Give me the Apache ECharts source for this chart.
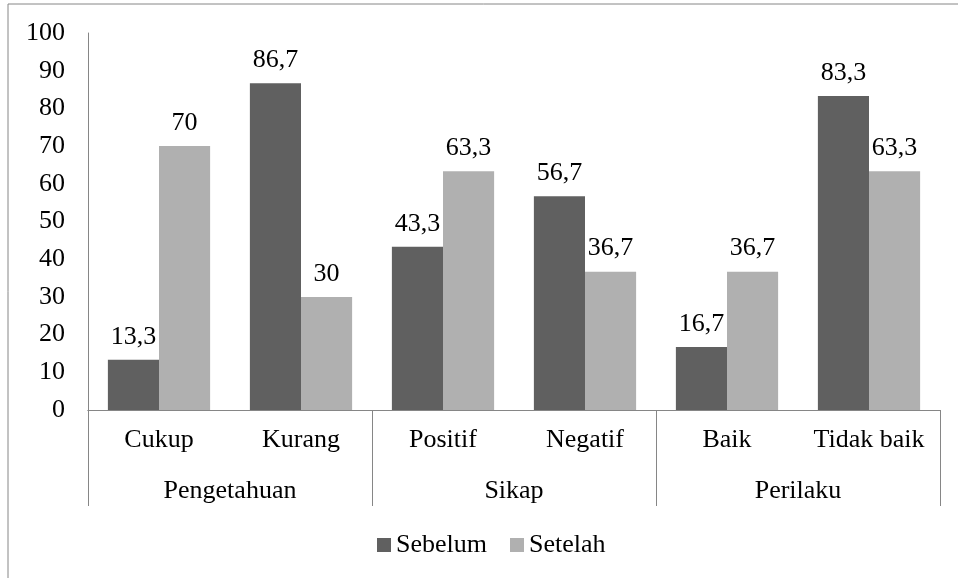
<!DOCTYPE html>
<html>
<head>
<meta charset="utf-8">
<script src="https://cdn.jsdelivr.net/npm/echarts@6/dist/echarts.min.js"></script>
<style>
  html, body { margin: 0; padding: 0; background: #fff; }
  #chart { width: 958px; height: 578px; }
</style>
</head>
<body>
<div id="chart"></div>
<script>
var categories = ['Cukup', 'Kurang', 'Positif', 'Negatif', 'Baik', 'Tidak baik']
var groups = ['Pengetahuan', 'Sikap', 'Perilaku']
var sebelum = [13.3, 86.7, 43.3, 56.7, 16.7, 83.3]
var setelah = [70, 30, 63.3, 36.7, 36.7, 63.3]

var font = "'Liberation Serif', 'Times New Roman', serif"
var lineColor = '#868686'
var fs = 26

function commaLabel (p) {
  return String(p.value).replace('.', ',')
}

var myChart = echarts.init(document.getElementById('chart'))

var option = {
  backgroundColor: '#fff',
  textStyle: { fontFamily: font, color: '#000' },
  graphic: [
    {
      type: 'rect',
      shape: { x: 8, y: 4, width: 1200, height: 1000 },
      style: { fill: 'none', stroke: lineColor, lineWidth: 1 },
      silent: true
    }
  ],
  grid: { left: 88, right: 18, top: 33, bottom: 168 },
  legend: {
    data: ['Sebelum', 'Setelah'],
    top: 527,
    left: 372,
    icon: 'rect',
    itemWidth: 14,
    itemHeight: 14,
    itemGap: 23,
    textStyle: { fontFamily: font, fontSize: fs, color: '#000' }
  },
  xAxis: [
    {
      type: 'category',
      data: categories,
      axisLine: { lineStyle: { color: lineColor } },
      axisTick: { show: false },
      axisLabel: { interval: 0, fontFamily: font, fontSize: fs, color: '#000', margin: 17 }
    },
    {
      type: 'category',
      data: groups,
      position: 'bottom',
      axisLine: { show: true, lineStyle: { color: lineColor } },
      axisTick: { show: true, length: 96, lineStyle: { color: lineColor } },
      axisLabel: { interval: 0, fontFamily: font, fontSize: fs, color: '#000', margin: 68 }
    }
  ],
  yAxis: {
    type: 'value',
    min: 0,
    max: 100,
    interval: 10,
    splitLine: { show: false },
    axisLine: { show: true, lineStyle: { color: lineColor } },
    axisTick: { show: false },
    axisLabel: { fontFamily: font, fontSize: fs, color: '#000', margin: 23 }
  },
  series: [
    {
      name: 'Sebelum',
      type: 'bar',
      data: sebelum,
      barGap: '0%',
      barCategoryGap: '28%',
      itemStyle: { color: '#606060' },
      label: {
        show: true,
        position: 'top',
        distance: 10,
        fontFamily: font,
        fontSize: fs,
        color: '#000',
        formatter: commaLabel
      }
    },
    {
      name: 'Setelah',
      type: 'bar',
      data: setelah,
      barGap: '0%',
      barCategoryGap: '28%',
      itemStyle: { color: '#b0b0b0' },
      label: {
        show: true,
        position: 'top',
        distance: 10,
        fontFamily: font,
        fontSize: fs,
        color: '#000',
        formatter: commaLabel
      }
    }
  ]
}
myChart.setOption(option, true)
</script>
</body>
</html>
